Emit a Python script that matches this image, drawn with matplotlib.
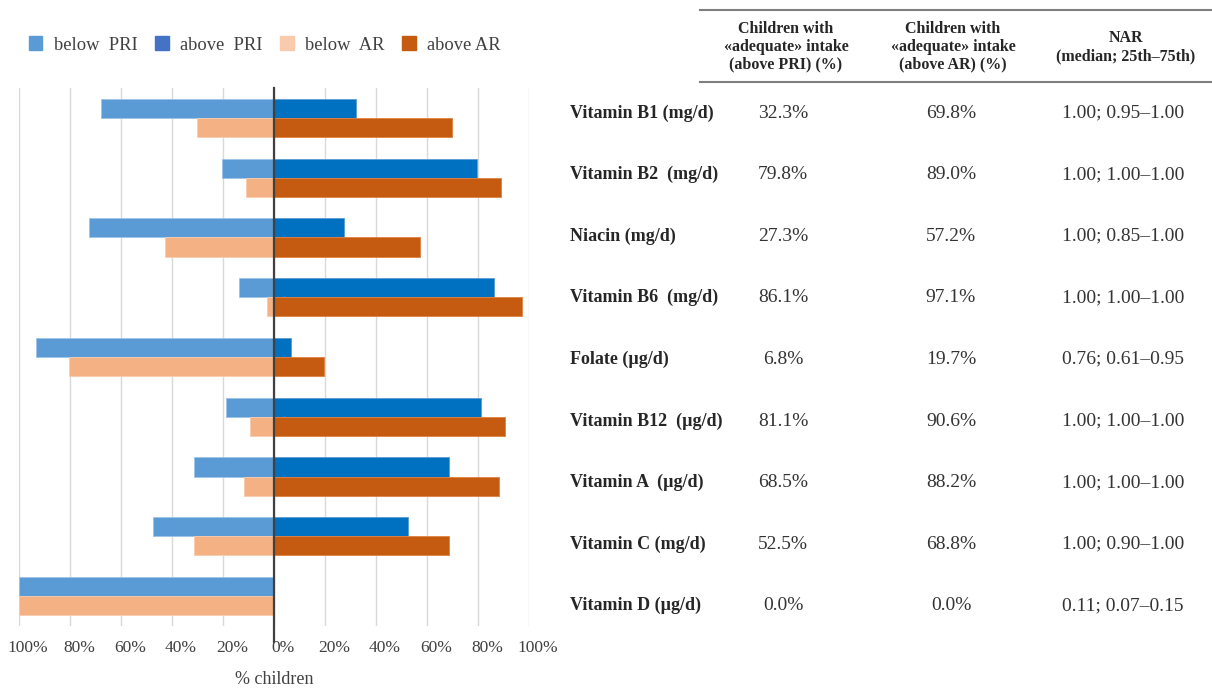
import numpy as np
import matplotlib
matplotlib.use('Agg')
import matplotlib.pyplot as plt
import matplotlib.transforms as mtransforms
from matplotlib.patches import Patch
from matplotlib.ticker import FuncFormatter

# data
nutrients = ['Vitamin B1 (mg/d)', 'Vitamin B2  (mg/d)', 'Niacin (mg/d)', 'Vitamin B6  (mg/d)',
             'Folate (\u00b5g/d)', 'Vitamin B12  (\u00b5g/d)', 'Vitamin A  (\u00b5g/d)',
             'Vitamin C (mg/d)', 'Vitamin D (\u00b5g/d)']
above_pri = [32.3, 79.8, 27.3, 86.1, 6.8, 81.1, 68.5, 52.5, 0.0]
below_pri = [67.7, 20.2, 72.7, 13.9, 93.2, 18.9, 31.5, 47.5, 100.0]
above_ar = [69.8, 89.0, 57.2, 97.1, 19.7, 90.6, 88.2, 68.8, 0.0]
below_ar = [30.2, 11.0, 42.8, 2.9, 80.3, 9.4, 11.8, 31.2, 100.0]
nar = ['1.00; 0.95\u20131.00', '1.00; 1.00\u20131.00', '1.00; 0.85\u20131.00', '1.00; 1.00\u20131.00',
       '0.76; 0.61\u20130.95', '1.00; 1.00\u20131.00', '1.00; 1.00\u20131.00', '1.00; 0.90\u20131.00',
       '0.11; 0.07\u20130.15']
ticks = [-100, -80, -60, -40, -20, 0, 20, 40, 60, 80, 100]

plt.rcParams['font.family'] = ['Liberation Serif', 'DejaVu Serif']
W, H = 1212, 689
fig = plt.figure(figsize=(W / 100, H / 100), dpi=100)

# bar chart
ax = fig.add_axes([19 / W, 1 - 626 / H, 510 / W, 538 / H])
y = np.arange(len(nutrients))
h = 0.32
ax.barh(y - h / 2, -np.array(below_pri), h, color='#5B9BD5', edgecolor='#9DC3E6', lw=0.6, zorder=2)
ax.barh(y - h / 2, above_pri, h, color='#0070C0', edgecolor='#5B9BD5', lw=0.6, zorder=2)
ax.barh(y + h / 2, -np.array(below_ar), h, color='#F4B183', edgecolor='#F8CBAD', lw=0.6, zorder=2)
ax.barh(y + h / 2, above_ar, h, color='#C55A11', edgecolor='#E08040', lw=0.6, zorder=2)
ax.set_xlim(-100, 100)
ax.set_ylim(len(nutrients) - 0.5, -0.5)
ax.set_xticks(ticks)
ax.xaxis.set_major_formatter(FuncFormatter(lambda v, p: '%d%%' % abs(round(v))))
ax.set_yticks([])
ax.grid(axis='x', color='#D9D9D9', lw=1, zorder=0)
ax.axvline(0, ymin=-0.03, ymax=1.0, color='#404040', lw=1.6, zorder=3, clip_on=False)
for s in ax.spines.values():
    s.set_visible(False)
ax.tick_params(axis='x', length=0, pad=10, labelsize=12.5, labelcolor='#404040')
offset = mtransforms.ScaledTranslation(9 / 100, 0, fig.dpi_scale_trans)
for lab in ax.get_xticklabels():
    lab.set_transform(lab.get_transform() + offset)
ax.set_xlabel('% children', fontsize=13, color='#404040', labelpad=11)

# legend
handles = [Patch(color='#5B9BD5', label='below  PRI'), Patch(color='#4472C4', label='above  PRI'),
           Patch(color='#F8CBAD', label='below  AR'), Patch(color='#C55A11', label='above AR')]
fig.legend(handles=handles, loc='center left', bbox_to_anchor=(12 / W, 1 - 45 / H), ncol=4,
           frameon=False, fontsize=13.3, handlelength=0.75, handleheight=0.75, handletextpad=0.6,
           columnspacing=0.95, labelcolor='#404040')

# table on the right
fig.add_artist(plt.Line2D([700 / W, 1], [1 - 10 / H, 1 - 10 / H], color='#7F7F7F', lw=1.5))
fig.add_artist(plt.Line2D([700 / W, 1], [1 - 82 / H, 1 - 82 / H], color='#7F7F7F', lw=1.5))
hdr = dict(fontsize=11.5, fontweight='bold', ha='center', va='center', linespacing=1.15, color='#262626')
fig.text(786 / W, 1 - 47 / H, 'Children with\n\u00abadequate\u00bb intake\n(above PRI) (%)', **hdr)
fig.text(953 / W, 1 - 47 / H, 'Children with\n\u00abadequate\u00bb intake\n(above AR) (%)', **hdr)
fig.text(1126 / W, 1 - 47 / H, 'NAR\n(median; 25th\u201375th)', **hdr)

for i, name in enumerate(nutrients):
    ty = 1 - (113 + i * 61.6) / H
    fig.text(570 / W, ty, name, fontsize=13, fontweight='bold', ha='left', va='center', color='#262626')
    fig.text(783 / W, ty, '%.1f%%' % above_pri[i], fontsize=14, ha='center', va='center', color='#333333')
    fig.text(951 / W, ty, '%.1f%%' % above_ar[i], fontsize=14, ha='center', va='center', color='#333333')
    fig.text(1123 / W, ty, nar[i], fontsize=14, ha='center', va='center', color='#333333')

fig.savefig('out.png', dpi=100)
